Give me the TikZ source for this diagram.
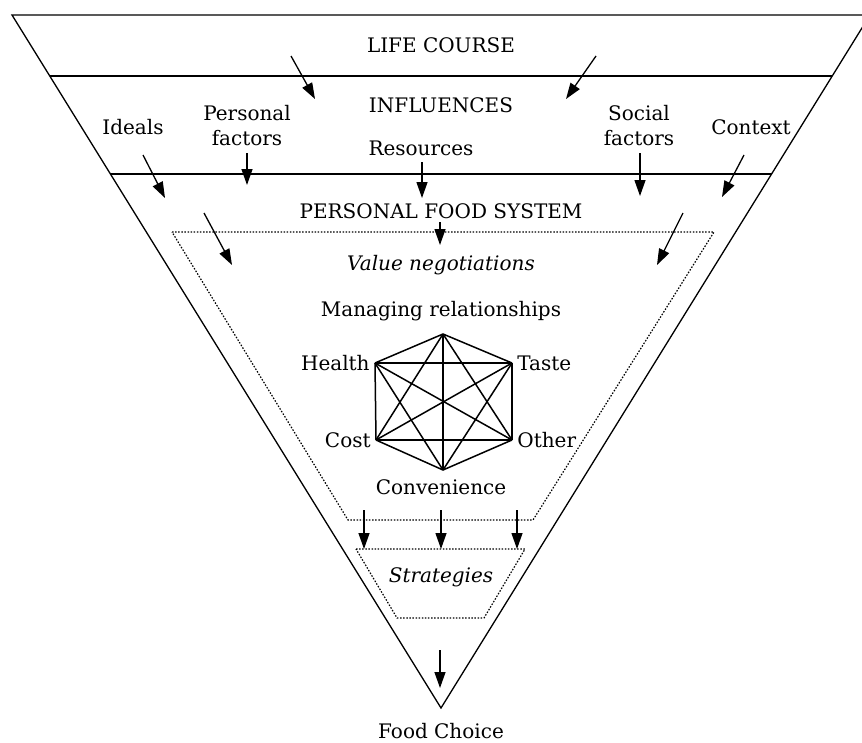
\documentclass[tikz,border=0pt]{standalone}
\usepackage{fontspec}
\setmainfont{DejaVu Serif}
\usetikzlibrary{arrows.meta,calc}

\begin{document}
\begin{tikzpicture}[x=1pt,y=-1pt,
  frame/.style={line width=1.3pt},
  dotbox/.style={line width=1.2pt, dash pattern=on 1.5pt off 1.6pt},
  lbl/.style={font=\fontsize{20}{25}\selectfont, align=center, inner sep=0pt},
  slanted/.style={lbl, font=\fontsize{20}{25}\selectfont\itshape},
  flow/.style={-{Triangle[length=16pt,width=11pt]}, line width=1.3pt},
  link/.style={line width=1.5pt},
  vertex/.style={inner sep=0pt, minimum size=0pt}]
  \useasboundingbox (0,0) rectangle (862,742);
  \clip (0,0) rectangle (862,742);
  \coordinate (tl) at (12,15);
  \coordinate (tr) at (870,15);
  \coordinate (apex) at (441,708);
  \draw[frame] (tl) -- (tr) -- (apex) -- cycle;
  \draw[frame] ($(tl)!61/693!(apex)$) -- ($(tr)!61/693!(apex)$);
  \draw[frame] ($(tl)!159/693!(apex)$) -- ($(tr)!159/693!(apex)$);
  \node[lbl] (life) at (441,45) {LIFE COURSE};
  \node[lbl] (infl) at (441,105) {INFLUENCES};
  \node[lbl] (ideals) at (133,127) {Ideals};
  \node[lbl] (pers) at (247,126) {Personal\\factors};
  \node[lbl] (res) at (421,148) {Resources};
  \node[lbl] (soc) at (639,126) {Social\\factors};
  \node[lbl] (ctx) at (751,127) {Context};
  \node[lbl] (pfs) at (441,211) {PERSONAL FOOD SYSTEM};
  \node[slanted] (val) at (441,265) {Value negotiations};
  \node[lbl] (mng) at (441,311) {Managing relationships};
  \node[lbl] (conv) at (441,487) {Convenience};
  \node[slanted] (strat) at (441,577) {Strategies};
  \node[lbl, anchor=base] (choice) at (441,738) {Food Choice};
  \draw[dotbox] (172,232) -- (714,232) -- (533,520) -- (348,520) -- cycle;
  \draw[dotbox] (356,549) -- (525,549) -- (484,618) -- (397,618) -- cycle;
  \node[vertex] (top) at (443,334) {};
  \node[vertex, label={[lbl, label distance=5pt]left:Health}] (health) at (375,363) {};
  \node[vertex, label={[lbl, label distance=5pt]right:Taste}] (taste) at (512,363) {};
  \node[vertex, label={[lbl, label distance=5pt]left:Cost}] (cost) at (376,440) {};
  \node[vertex, label={[lbl, label distance=5pt]right:Other}] (other) at (512,440) {};
  \node[vertex] (bottom) at (443,470) {};
  \foreach \a/\b in {top/health, top/taste, top/cost, top/other, top/bottom,
                     health/taste, health/cost, health/other, health/bottom,
                     taste/cost, taste/other, taste/bottom,
                     cost/other, cost/bottom, other/bottom}
    \draw[link] (\a.center) -- (\b.center);
  \foreach \n/\xa/\ya/\xb/\yb in {lcl/291/56/315/99, lcr/596/56/566/99,
      idl/143/155/165/198, prf/247/153/247/185, rsc/422/162/422/198,
      scf/640/153/640/196, ctx/744/155/722/197,
      pfl/204/213/232/265, pfc/440/222/440/245, pfr/683/213/657/265,
      stl/364/510/364/549, stc/441/510/441/549, str/517/510/517/549,
      fch/440/650/440/688} {
    \coordinate (\n-a) at (\xa,\ya);
    \coordinate (\n-b) at (\xb,\yb);
    \draw[flow] (\n-a) -- (\n-b);
  }
\end{tikzpicture}
\end{document}
